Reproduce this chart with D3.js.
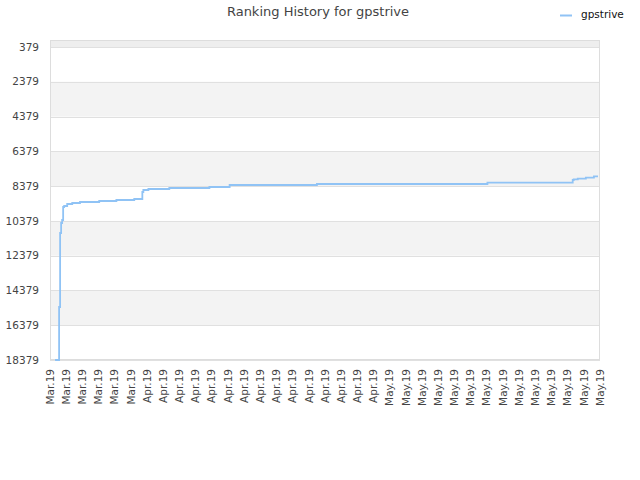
<!DOCTYPE html>
<html><head><meta charset="utf-8">
<script src="https://cdn.jsdelivr.net/npm/d3@7"></script>
<style>body{margin:0;background:#fff;font-family:"DejaVu Sans",sans-serif;}</style>
</head><body><svg id="c" width="640" height="480"></svg>
<script>
const title = "Ranking History for gpstrive";
const seriesName = "gpstrive";
const times = [
 "2019-03-20T15:00","2019-03-21T03:00","2019-03-21T06:00","2019-03-21T09:00","2019-03-21T12:00",
 "2019-03-21T15:00","2019-03-21T18:00","2019-03-22T03:00","2019-03-22T18:00","2019-03-23T17:00",
 "2019-03-26T02:00","2019-03-28T05:00","2019-03-30T10:00","2019-03-31T10:00","2019-03-31T13:00",
 "2019-04-01T04:00","2019-04-03T18:00","2019-04-08T17:00","2019-04-11T05:00","2019-04-22T00:00",
 "2019-05-13T02:00","2019-05-23T15:00","2019-05-23T18:00","2019-05-24T06:00","2019-05-25T06:00",
 "2019-05-26T06:00","2019-05-26T18:00"];
const ranks = [
 18379,15331,11075,10500,10328,
 9580,9523,9408,9350,9293,
 9235,9178,9120,8718,8602,
 8545,8487,8430,8315,8257,
 8183,8028,7987,7953,7896,
 7815,7815];
const yTicks = [379,2379,4379,6379,8379,10379,12379,14379,16379,18379];
const yMin = -23;
const xTickDates = [
 "2019-03-20","2019-03-22","2019-03-24","2019-03-26","2019-03-28","2019-03-30",
 "2019-04-01","2019-04-03","2019-04-05","2019-04-07","2019-04-09","2019-04-11","2019-04-13","2019-04-15",
 "2019-04-17","2019-04-19","2019-04-21","2019-04-23","2019-04-25","2019-04-27","2019-04-29",
 "2019-05-01","2019-05-03","2019-05-05","2019-05-07","2019-05-09","2019-05-11","2019-05-13",
 "2019-05-15","2019-05-17","2019-05-19","2019-05-21","2019-05-23","2019-05-25","2019-05-27"];

const parse = d3.isoParse;
const data = times.map((t,i)=>({t:parse(t), v:ranks[i]}));
const xt = xTickDates.map(d=>d3.timeParse("%Y-%m-%d")(d));

const svg = d3.select("#c");
const L=50,R=600,T=40,B=360;
const x = d3.scaleTime().domain([xt[0], xt[xt.length-1]]).range([L,R]);
const y = d3.scaleLinear().domain([yMin, 18379]).range([T,B]);

// bands
const edges = [yMin].concat(yTicks);
for(let i=0;i<edges.length-1;i++){
  if(i%2===0){
    svg.append("rect").attr("x",L).attr("width",R-L)
      .attr("y",y(edges[i])).attr("height",y(edges[i+1])-y(edges[i]))
      .attr("fill", i===0 ? "#eeeeee" : "#f3f3f3");
  }
}
// grid
svg.append("g").selectAll("line").data(yTicks).join("line")
  .attr("x1",L).attr("x2",R).attr("y1",d=>Math.round(y(d))+0.5).attr("y2",d=>Math.round(y(d))+0.5)
  .attr("stroke","#e0e0e0");
// border
svg.append("rect").attr("x",L+0.5).attr("y",T+0.5).attr("width",R-L-1).attr("height",B-T-1)
  .attr("fill","none").attr("stroke","#dddddd");

// y labels
svg.append("g").selectAll("text").data(yTicks).join("text")
  .attr("x",39).attr("y",d=>y(d)).attr("dy","0.35em").attr("text-anchor","end")
  .attr("font-size","10.5px").attr("fill","#444").text(d=>d);

// x labels
const fmt = d3.timeFormat("%b.%y");
svg.append("g").selectAll("text").data(xt).join("text")
  .attr("transform",d=>`translate(${x(d)},369) rotate(-90)`)
  .attr("dy","0.35em").attr("text-anchor","end")
  .attr("font-size","10.5px").attr("fill","#444").text(d=>fmt(d));

// line
const line = d3.line().x(d=>x(d.t)).y(d=>y(d.v)).curve(d3.curveStepAfter);
svg.append("path").datum(data).attr("d",line).attr("fill","none")
  .attr("stroke","#90c3f5").attr("stroke-width",1.8);

// title
svg.append("text").attr("x",318).attr("y",16).attr("text-anchor","middle")
  .attr("font-size","13px").attr("fill","#444").text(title);
// legend
svg.append("line").attr("x1",560).attr("x2",572).attr("y1",15.5).attr("y2",15.5)
  .attr("stroke","#90c3f5").attr("stroke-width",2);
svg.append("text").attr("x",581).attr("y",14.5).attr("dy","0.35em")
  .attr("font-size","10.5px").attr("fill","#111").text(seriesName);
</script></body></html>
